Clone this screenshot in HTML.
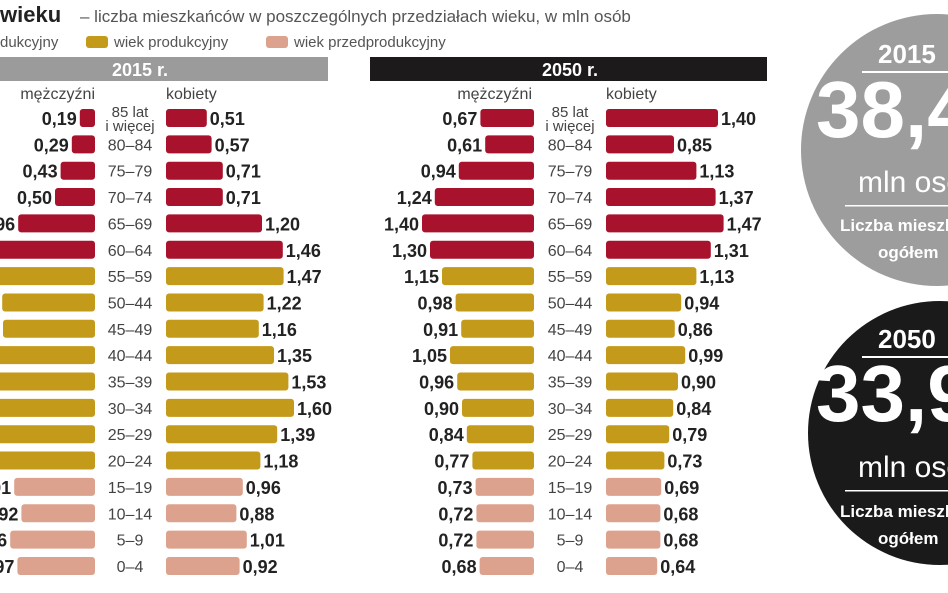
<!DOCTYPE html>
<html><head><meta charset="utf-8">
<style>
html,body{margin:0;padding:0;background:#fff;width:948px;height:593px;overflow:hidden}
svg{display:block}
text{font-family:"Liberation Sans Narrow","Liberation Sans",sans-serif}
</style></head>
<body>
<svg id="chart" width="948" height="593" viewBox="0 0 948 593">
  <g>
    <text x="0" y="22" font-size="22" font-weight="bold" fill="#222">wieku</text>
    <text x="80" y="22" font-size="17" fill="#555">– liczba mieszkańców w poszczególnych przedziałach wieku, w mln osób</text>
  </g>
  <g>
    <text x="0" y="47" font-size="15" fill="#555">dukcyjny</text>
    <rect x="86" y="36" width="22" height="12" rx="3" fill="#c49a1a"/>
    <text x="114" y="47" font-size="15" fill="#555">wiek produkcyjny</text>
    <rect x="266" y="36" width="22" height="12" rx="3" fill="#dca28e"/>
    <text x="294" y="47" font-size="15" fill="#555">wiek przedprodukcyjny</text>
  </g>
  <rect x="0" y="57" width="328" height="24" fill="#9b9b9b"/>
  <text x="140" y="76" font-size="18" font-weight="bold" fill="#fff" text-anchor="middle">2015 r.</text>
  <rect x="370" y="57" width="397" height="24" fill="#1c1a1b"/>
  <text x="570" y="76" font-size="18" font-weight="bold" fill="#fff" text-anchor="middle">2050 r.</text>

  <text x="95" y="99" font-size="16" fill="#444" text-anchor="end">mężczyźni</text>
  <text x="166" y="99" font-size="16" fill="#444">kobiety</text>
  <text x="532" y="99" font-size="16" fill="#444" text-anchor="end">mężczyźni</text>
  <text x="606" y="99" font-size="16" fill="#444">kobiety</text>

  <g id="bars"></g>

  <g>
    <circle cx="937" cy="150" r="136" fill="#9d9d9d"/>
    <text x="878" y="63" font-size="26" font-weight="bold" fill="#fff">2015</text>
    <rect x="862" y="71" width="90" height="2" fill="#fff"/>
    <text x="816" y="137" font-size="80" font-weight="bold" fill="#fff" font-family="Liberation Sans">38,4</text>
    <text x="858" y="192" font-size="30" fill="#fff">mln osób</text>
    <rect x="845" y="205" width="110" height="1.5" fill="#fff"/>
    <text x="840" y="231" font-size="17" font-weight="bold" fill="#fff">Liczba mieszkańców</text>
    <text x="878" y="258" font-size="17" font-weight="bold" fill="#fff">ogółem</text>
  </g>
  <g>
    <circle cx="940" cy="433" r="132" fill="#1b1a1a"/>
    <text x="878" y="348" font-size="26" font-weight="bold" fill="#fff">2050</text>
    <rect x="862" y="356" width="90" height="2" fill="#fff"/>
    <text x="816" y="421" font-size="80" font-weight="bold" fill="#fff" font-family="Liberation Sans">33,9</text>
    <text x="858" y="477" font-size="30" fill="#fff">mln osób</text>
    <rect x="845" y="490" width="110" height="1.5" fill="#fff"/>
    <text x="840" y="517" font-size="17" font-weight="bold" fill="#fff">Liczba mieszkańców</text>
    <text x="878" y="544" font-size="17" font-weight="bold" fill="#fff">ogółem</text>
  </g>
</svg>
<script>
const ageGroups = ["85+","80-84","75-79","70-74","65-69","60-64","55-59","50-44","45-49","40-44","35-39","30-34","25-29","20-24","15-19","10-14","5-9","0-4"];
const ageLabels = ["85 lat","80–84","75–79","70–74","65–69","60–64","55–59","50–44","45–49","40–44","35–39","30–34","25–29","20–24","15–19","10–14","5–9","0–4"];
const groupType = ["post","post","post","post","post","post","work","work","work","work","work","work","work","work","pre","pre","pre","pre"];
const men2015 = [0.19,0.29,0.43,0.50,0.96,1.30,1.37,1.16,1.15,1.36,1.57,1.64,1.43,1.22,1.01,0.92,1.06,0.97];
const women2015 = [0.51,0.57,0.71,0.71,1.20,1.46,1.47,1.22,1.16,1.35,1.53,1.60,1.39,1.18,0.96,0.88,1.01,0.92];
const men2050 = [0.67,0.61,0.94,1.24,1.40,1.30,1.15,0.98,0.91,1.05,0.96,0.90,0.84,0.77,0.73,0.72,0.72,0.68];
const women2050 = [1.40,0.85,1.13,1.37,1.47,1.31,1.13,0.94,0.86,0.99,0.90,0.84,0.79,0.73,0.69,0.68,0.68,0.64];

const NS="http://www.w3.org/2000/svg";
const g=document.getElementById('bars');
const colors={post:"#a8122c",work:"#c49a1a",pre:"#dca28e"};
const scale=v=>v*80;
const rowY=i=>118+i*26.35;
const fmt=v=>v.toFixed(2).replace('.',',');
function mk(tag,attrs){const e=document.createElementNS(NS,tag);for(const k in attrs)e.setAttribute(k,attrs[k]);g.appendChild(e);return e;}
function panel(men,women,mEnd,wStart,mid,key){
  ageGroups.forEach((a,i)=>{
    const y=rowY(i);
    const mw=scale(men[i]);
    const r1=mk('rect',{x:mEnd-mw,y:y-9,width:mw,height:18,rx:3,fill:colors[groupType[i]]});
    
    
    const t1=mk('text',{x:mEnd-mw-3,y:y+7,'font-size':18,'font-weight':'bold',fill:'#222','text-anchor':'end'});
    t1.textContent=fmt(men[i]);
    
    
    const ww=scale(women[i]);
    const r2=mk('rect',{x:wStart,y:y-9,width:ww,height:18,rx:3,fill:colors[groupType[i]]});
    
    
    const t2=mk('text',{x:wStart+ww+3,y:y+7,'font-size':18,'font-weight':'bold',fill:'#222'});
    t2.textContent=fmt(women[i]);
    
    
    if(i===0){
      const l1=mk('text',{x:mid,y:y-1,'font-size':15,fill:'#444','text-anchor':'middle'});l1.textContent='85 lat';
      
      
      const l2=mk('text',{x:mid,y:y+13,'font-size':15,fill:'#444','text-anchor':'middle'});l2.textContent='i więcej';
      
      
    } else {
      const l=mk('text',{x:mid,y:y+6,'font-size':16,fill:'#444','text-anchor':'middle'});l.textContent=ageLabels[i];
      
      
    }
  });
}
panel(men2015,women2015,95,166,130,'2015');
panel(men2050,women2050,534,606,570,'2050');
</script>
</body></html>
